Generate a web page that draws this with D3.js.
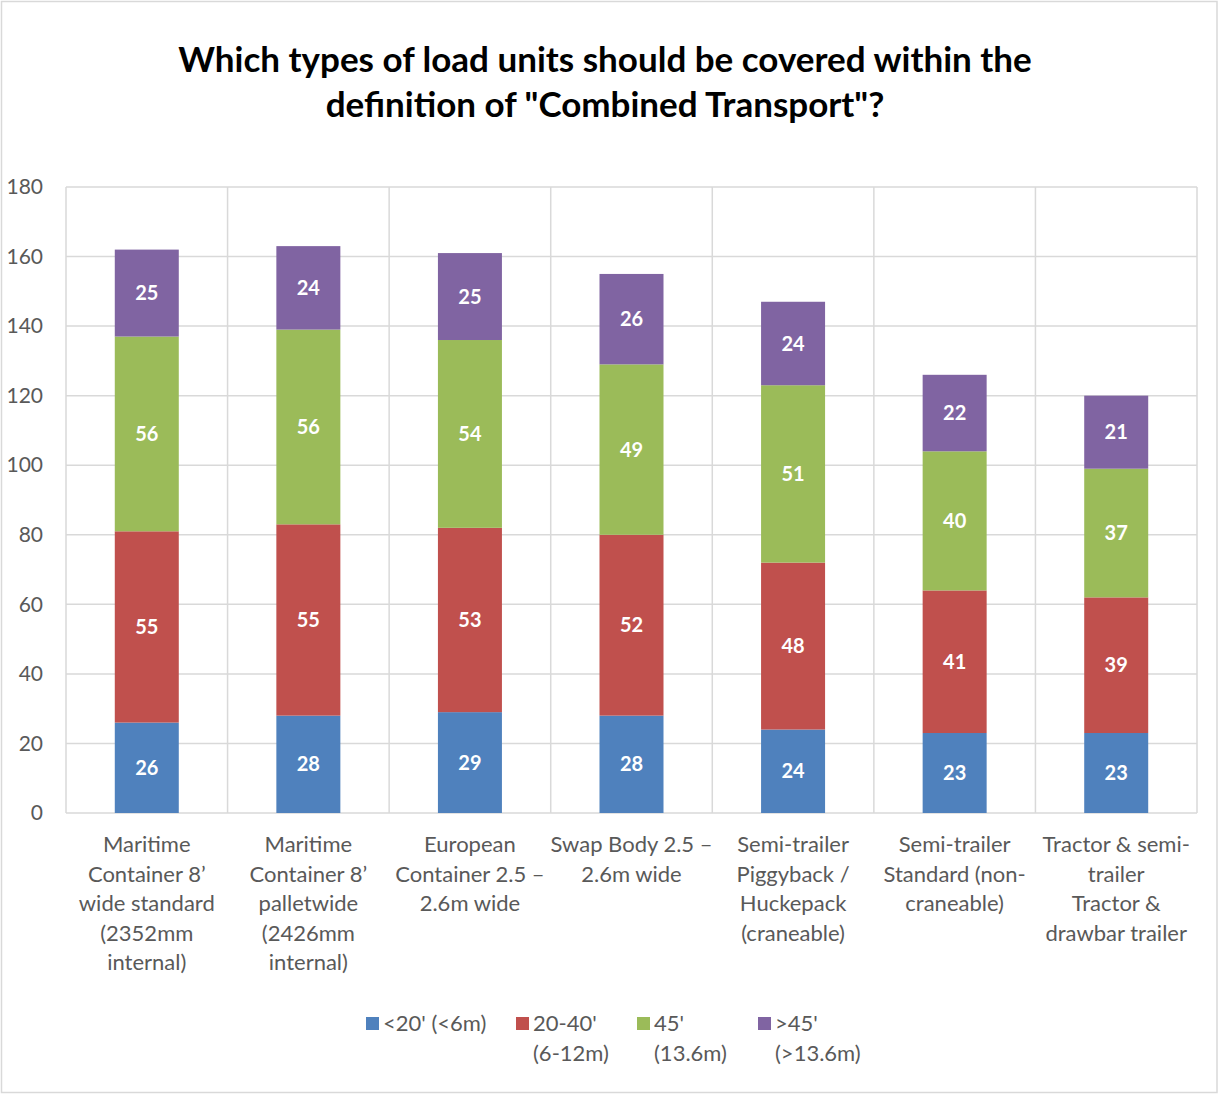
<!DOCTYPE html>
<html>
<head>
<meta charset="utf-8">
<script src="https://cdn.jsdelivr.net/npm/d3@7"></script>
<style>
  html, body { margin: 0; padding: 0; background: #fff; }
  svg { display: block; }
  text { font-family: Lato, "Open Sans", sans-serif; }
</style>
</head>
<body>
<svg id="chart" width="1218" height="1095"></svg>
<script>
// Category labels, one entry per line of wrapped text
const categories = [
  ["Maritime", "Container 8\u2019", "wide standard", "(2352mm", "internal)"],
  ["Maritime", "Container 8\u2019", "palletwide", "(2426mm", "internal)"],
  ["European", "Container 2.5 \u2013", "2.6m wide"],
  ["Swap Body 2.5 \u2013", "2.6m wide"],
  ["Semi-trailer", "Piggyback /", "Huckepack", "(craneable)"],
  ["Semi-trailer", "Standard (non-", "craneable)"],
  ["Tractor & semi-", "trailer", "Tractor &", "drawbar trailer"]
];

const seriesNames = [["<20' (<6m)"], ["20-40'", "(6-12m)"], ["45'", "(13.6m)"], [">45'", "(>13.6m)"]];
const seriesColors = ["#4F81BD", "#C0504D", "#9BBB59", "#8064A2"];

const under20 = [26, 28, 29, 28, 24, 23, 23];
const from20to40 = [55, 55, 53, 52, 48, 41, 39];
const ft45 = [56, 56, 54, 49, 51, 40, 37];
const over45 = [25, 24, 25, 26, 24, 22, 21];

const yTicks = [0, 20, 40, 60, 80, 100, 120, 140, 160, 180];

const titleLines = ["Which types of load units should be covered within the",
                    "definition of \"Combined Transport\"?"];

const series = [under20, from20to40, ft45, over45];
const rows = categories.map((c, i) => {
  const r = { key: i };
  series.forEach((s, k) => r["s" + k] = s[i]);
  return r;
});
const stacked = d3.stack().keys(series.map((_, k) => "s" + k))(rows);

const svg = d3.select("#chart");
const W = 1218, H = 1095;

// chart frame
svg.append("rect")
  .attr("x", 1.5).attr("y", 1.5)
  .attr("width", W - 2.5).attr("height", H - 4)
  .attr("fill", "#fff").attr("stroke", "#d9d9d9").attr("stroke-width", 1.5);

const plot = { left: 66, right: 1197, top: 187, bottom: 813 };

const x = d3.scaleBand()
  .domain(d3.range(categories.length))
  .range([plot.left, plot.right])
  .paddingInner(0).paddingOuter(0);

const y = d3.scaleLinear().domain([0, 180]).range([plot.bottom, plot.top]);

const barW = 64;

// title
svg.append("g").selectAll("text")
  .data(titleLines)
  .join("text")
  .attr("x", 605)
  .attr("y", (d, i) => 72 + i * 45)
  .attr("text-anchor", "middle")
  .attr("font-size", 35)
  .attr("font-weight", "bold")
  .attr("fill", "#000")
  .text(d => d);

// horizontal gridlines
svg.append("g").selectAll("line")
  .data(yTicks)
  .join("line")
  .attr("x1", plot.left).attr("x2", plot.right)
  .attr("y1", d => y(d)).attr("y2", d => y(d))
  .attr("stroke", "#d9d9d9").attr("stroke-width", 1.5);

// vertical gridlines at category boundaries
const bounds = d3.range(categories.length + 1).map(i =>
  i < categories.length ? x(i) : x(categories.length - 1) + x.bandwidth());
svg.append("g").selectAll("line")
  .data(bounds)
  .join("line")
  .attr("x1", d => d).attr("x2", d => d)
  .attr("y1", plot.top).attr("y2", plot.bottom)
  .attr("stroke", "#d9d9d9").attr("stroke-width", 1.5);

// y axis tick labels
const yAxis = d3.axisLeft(y).tickValues(yTicks).tickSize(0).tickPadding(0);
const yg = svg.append("g").attr("transform", `translate(${plot.left - 23},0)`).call(yAxis);
yg.select(".domain").remove();
yg.selectAll("text")
  .attr("font-size", 21)
  .attr("fill", "#595959")
  .attr("font-family", "Lato, 'Open Sans', sans-serif");

// stacked bars
const layers = svg.append("g").selectAll("g")
  .data(stacked)
  .join("g")
  .attr("fill", (d, k) => seriesColors[k]);

layers.selectAll("rect")
  .data(d => d)
  .join("rect")
  .attr("x", (d, i) => x(i) + x.bandwidth() / 2 - barW / 2)
  .attr("width", barW)
  .attr("y", d => y(d[1]))
  .attr("height", d => y(d[0]) - y(d[1]));

// value labels
layers.selectAll("text")
  .data(d => d.map(v => ({ v, val: v[1] - v[0] })))
  .join("text")
  .attr("x", (d, i) => x(i) + x.bandwidth() / 2)
  .attr("y", d => (y(d.v[0]) + y(d.v[1])) / 2 + 7)
  .attr("text-anchor", "middle")
  .attr("font-size", 20)
  .attr("font-weight", "bold")
  .attr("fill", "#fff")
  .text(d => d.val);

// category labels
const catG = svg.append("g").selectAll("text")
  .data(categories)
  .join("text")
  .attr("text-anchor", "middle")
  .attr("font-size", 22)
  .attr("fill", "#595959");
catG.selectAll("tspan")
  .data((d, i) => d.map(line => ({ line, i })))
  .join("tspan")
  .attr("x", d => x(d.i) + x.bandwidth() / 2)
  .attr("y", (d, j) => 852 + j * 29.5)
  .text(d => d.line);

// legend
const legendX = [366, 516, 637, 758];
const lg = svg.append("g").selectAll("g")
  .data(seriesNames)
  .join("g")
  .attr("transform", (d, k) => `translate(${legendX[k]},0)`);
lg.append("rect")
  .attr("x", 0).attr("y", 1017)
  .attr("width", 13).attr("height", 13)
  .attr("fill", (d, k) => seriesColors[k]);
lg.append("text")
  .attr("font-size", 22)
  .attr("fill", "#595959")
  .selectAll("tspan")
  .data(d => d)
  .join("tspan")
  .attr("x", 17)
  .attr("y", (d, j) => 1031 + j * 30)
  .text(d => d);
</script>
</body>
</html>
